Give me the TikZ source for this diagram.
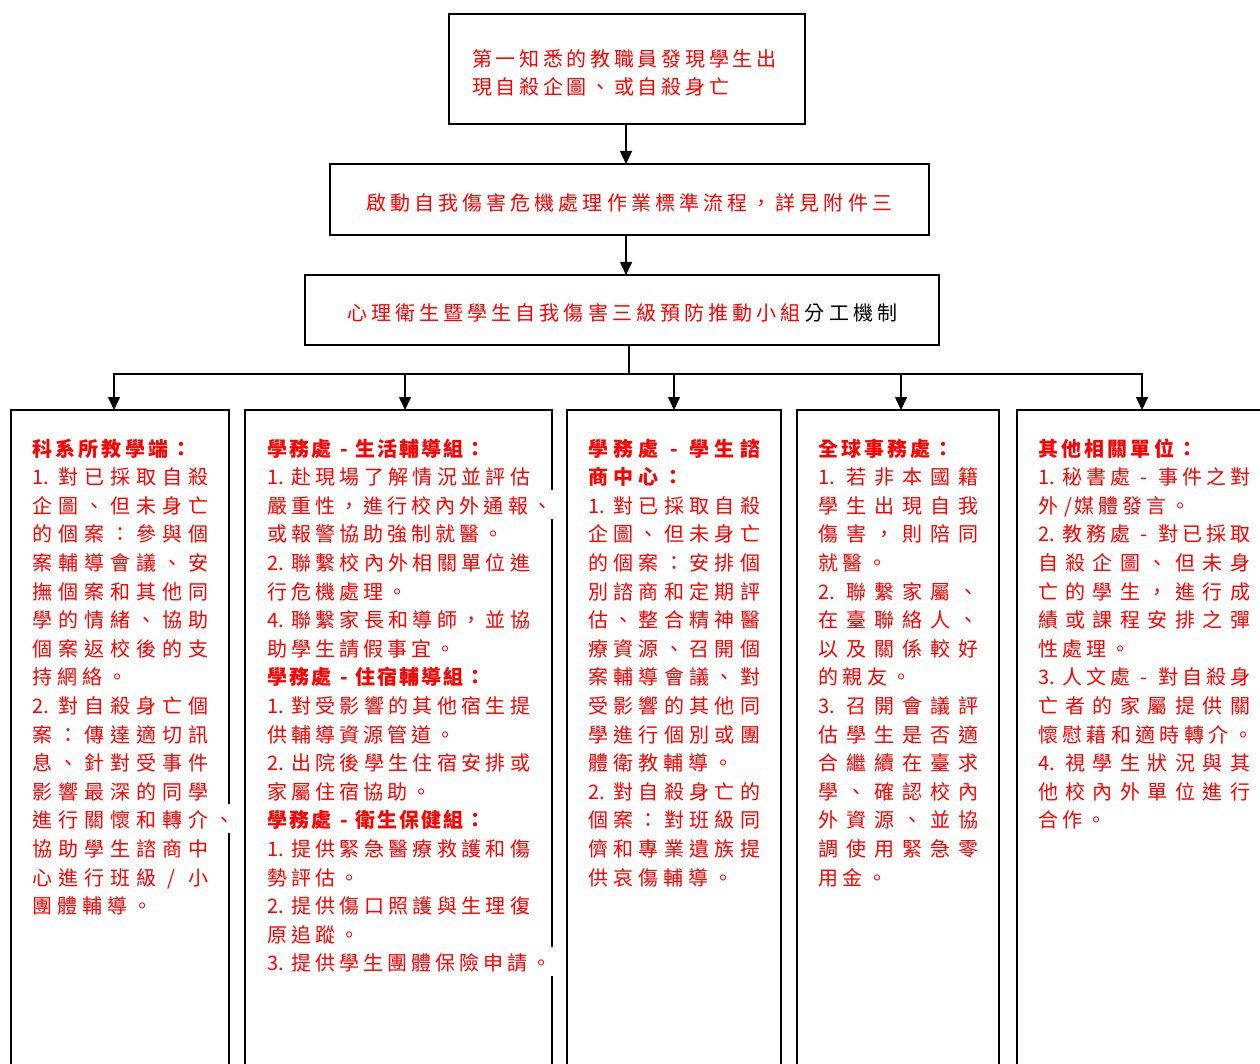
\documentclass[tikz,border=0pt]{standalone}
\usepackage{fontspec}
\setmainfont{Noto Sans CJK TC}
\usetikzlibrary{arrows.meta}
\definecolor{tred}{RGB}{255,0,0}
\newlength\linew
\newlength\pitchlen
\makeatletter
\def\hs@mark{}
\def\hs{\hs@mark}
% justified line: cells spread over \linew
\newcommand\jline[1]{\makebox[\linew][s]{\jl@first#1\relax}}
\def\jl@first#1{\jl@cell{#1}\jl@next}
\def\jl@next#1{\ifx\relax#1\else\hfill\jl@cell{#1}\expandafter\jl@next\fi}
\def\jl@cell#1{\ifx\hs#1\makebox[0.5em][c]{/}\else\makebox[1em][l]{#1}\fi}
% natural line: cells of width \pitchlen
\newcommand\nline[1]{\nl@next#1\relax}
\def\nl@next#1{\ifx\relax#1\else\nl@cell{#1}\expandafter\nl@next\fi}
\def\nl@cell#1{\ifx\hs#1\makebox[0.5\pitchlen][c]{/}\else\makebox[\pitchlen][l]{#1}\fi}
\makeatother
\newcommand\dsh{\hfill-\hfill}
\newcommand\wline[1]{{\setlength\fboxsep{0pt}\colorbox{white}{\rule[-5.4pt]{0pt}{29pt}#1}}}
\newcommand\tline[2]{{\bfseries\setlength\pitchlen{#1}\nline{#2}}}
\newcommand\tb[3]{\begin{minipage}[t]{#1}\fontsize{20pt}{#2}\selectfont\lineskiplimit=-100pt\relax #3\end{minipage}}
\begin{document}
\begin{tikzpicture}[x=1pt,y=1pt,
  box/.style={draw=black,line width=1.6pt,rectangle,inner sep=0pt,outer sep=0pt,anchor=north west},
  txt/.style={anchor=base west,inner sep=0pt,outer sep=0pt,text=tred},
  arr/.style={line width=1.6pt,-{Triangle[width=12pt,length=13pt]}},
  link/.style={line width=1.6pt}]
\useasboundingbox (0,0) rectangle (1260,-1064);
\clip (0,0) rectangle (1260,-1064);

% top boxes
\node[box,minimum width=356pt,minimum height=110pt] (b1) at (449,-14) {};
\node[box,minimum width=599pt,minimum height=71pt] (b2) at (330,-164) {};
\node[box,minimum width=634pt,minimum height=70pt] (b3) at (305,-275) {};

% column boxes
\node[box,minimum width=218pt,minimum height=700pt] (cA) at (11,-410) {};
\node[box,minimum width=307pt,minimum height=700pt] (cB) at (245,-410) {};
\node[box,minimum width=214pt,minimum height=700pt] (cC) at (567,-410) {};
\node[box,minimum width=202pt,minimum height=700pt] (cD) at (797,-410) {};
\node[box,minimum width=250pt,minimum height=700pt] (cE) at (1017,-410) {};

% connectors
\coordinate (ax) at (626,0);
\draw[arr] (b1.south -| ax) -- (b2.north -| ax);
\draw[arr] (b2.south -| ax) -- (b3.north -| ax);
\coordinate (drop) at (629,-374);
\draw[link] (b3.south -| drop) -- (drop);
\coordinate (dA) at (114,-374);
\coordinate (dB) at (405,-374);
\coordinate (dC) at (674,-374);
\coordinate (dD) at (901,-374);
\coordinate (dE) at (1142,-374);
\draw[arr] (drop) -| (dA |- cA.north);
\draw[arr] (drop) -| (dE |- cE.north);
\draw[arr] (dB) -- (dB |- cB.north);
\draw[arr] (dC) -- (dC |- cC.north);
\draw[arr] (dD) -- (dD |- cD.north);

% top texts
\node[txt] (t1) at (472,-66.6) {\tb{330pt}{28.4pt}{\setlength\pitchlen{23.7pt}%
\nline{第一知悉的教職員發現學生出}\par
\nline{現自殺企圖、或自殺身亡}}};
\node[txt] (t2) at (366,-211) {\tb{560pt}{28pt}{\setlength\pitchlen{24.1pt}%
\nline{啟動自我傷害危機處理作業標準流程，詳見附件三}}};
\node[txt] (t3) at (347,-320.5) {\tb{580pt}{28pt}{\setlength\pitchlen{24.1pt}%
\nline{心理衛生暨學生自我傷害三級預防推動小組}{\color{black}\nline{分工機制}}}};

% column A
\node[txt] (tA) at (32,-456) {\tb{200pt}{28.6pt}{%
\setlength\linew{176pt}\setlength\pitchlen{25pt}%
\tline{23.3pt}{科系所教學端：}\par
\jline{{1.}對已採取自殺}\par
\jline{企圖、但未身亡}\par
\jline{的個案：參與個}\par
\jline{案輔導會議、安}\par
\jline{撫個案和其他同}\par
\jline{學的情緒、協助}\par
\jline{個案返校後的支}\par
\nline{持網絡。}\par
\jline{{2.}對自殺身亡個}\par
\jline{案：傳達適切訊}\par
\jline{息、針對受事件}\par
\jline{影響最深的同學}\par
{\setlength\pitchlen{26pt}\wline{\nline{進行關懷和轉介、}}}\par
\jline{協助學生諮商中}\par
\jline{心進行班級{\hspace{5pt}/}小}\par
\nline{團體輔導。}\par}};

% column B
\node[txt] (tB) at (267,-456) {\tb{280pt}{28.6pt}{%
\setlength\linew{263pt}\setlength\pitchlen{24pt}%
\tline{22pt}{學務處{\dsh}生活輔導組：}\par
\jline{{1.}赴現場了解情況並評估}\par
{\setlength\pitchlen{24.1pt}\wline{\nline{嚴重性，進行校內外通報、}}}\par
\nline{或報警協助強制就醫。}\par
\jline{{2.}聯繫校內外相關單位進}\par
\nline{行危機處理。}\par
\jline{{4.}聯繫家長和導師，並協}\par
\nline{助學生請假事宜。}\par
\tline{22pt}{學務處{\dsh}住宿輔導組：}\par
\jline{{1.}對受影響的其他宿生提}\par
\nline{供輔導資源管道。}\par
\jline{{2.}出院後學生住宿安排或}\par
\nline{家屬住宿協助。}\par
\tline{22pt}{學務處{\dsh}衛生保健組：}\par
\jline{{1.}提供緊急醫療救護和傷}\par
\nline{勢評估。}\par
\jline{{2.}提供傷口照護與生理復}\par
\nline{原追蹤。}\par
\wline{\nline{{3.}提供學生團體保險申請。}}\par}};

% column C
\node[txt] (tC) at (588,-456) {\tb{190pt}{28.6pt}{%
\setlength\linew{172pt}\setlength\pitchlen{25pt}%
{\bfseries\jline{學務處{\dsh}學生諮}}\par
\tline{25pt}{商中心：}\par
\jline{{1.}對已採取自殺}\par
\jline{企圖、但未身亡}\par
\jline{的個案：安排個}\par
\jline{別諮商和定期評}\par
\jline{估、整合精神醫}\par
\jline{療資源、召開個}\par
\jline{案輔導會議、對}\par
\jline{受影響的其他同}\par
\jline{學進行個別或團}\par
\nline{體衛教輔導。}\par
\jline{{2.}對自殺身亡的}\par
\jline{個案：對班級同}\par
\jline{儕和專業遺族提}\par
\nline{供哀傷輔導。}\par}};

% column D
\node[txt] (tD) at (818,-456) {\tb{180pt}{28.6pt}{%
\setlength\linew{160pt}\setlength\pitchlen{24.5pt}%
\tline{23pt}{全球事務處：}\par
\jline{{1.}若非本國籍}\par
\jline{學生出現自我}\par
\jline{傷害，則陪同}\par
\nline{就醫。}\par
\jline{{2.}聯繫家屬、}\par
\jline{在臺聯絡人、}\par
\jline{以及關係較好}\par
\nline{的親友。}\par
\jline{{3.}召開會議評}\par
\jline{估學生是否適}\par
\jline{合繼續在臺求}\par
\jline{學、確認校內}\par
\jline{外資源、並協}\par
\jline{調使用緊急零}\par
\nline{用金。}\par}};

% column E
\node[txt] (tE) at (1038,-456) {\tb{220pt}{28.6pt}{%
\setlength\linew{212pt}\setlength\pitchlen{24pt}%
\tline{23.2pt}{其他相關單位：}\par
\jline{{1.}秘書處{\dsh}事件之對}\par
\nline{外\hs 媒體發言。}\par
\jline{{2.}教務處{\dsh}對已採取}\par
\jline{自殺企圖、但未身}\par
\jline{亡的學生，進行成}\par
\jline{績或課程安排之彈}\par
\nline{性處理。}\par
\jline{{3.}人文處{\dsh}對自殺身}\par
\jline{亡者的家屬提供關}\par
{\setlength\pitchlen{24.4pt}\nline{懷慰藉和適時轉介。}}\par
\jline{{4.}視學生狀況與其}\par
\jline{他校內外單位進行}\par
\nline{合作。}\par}};
\end{tikzpicture}
\end{document}
